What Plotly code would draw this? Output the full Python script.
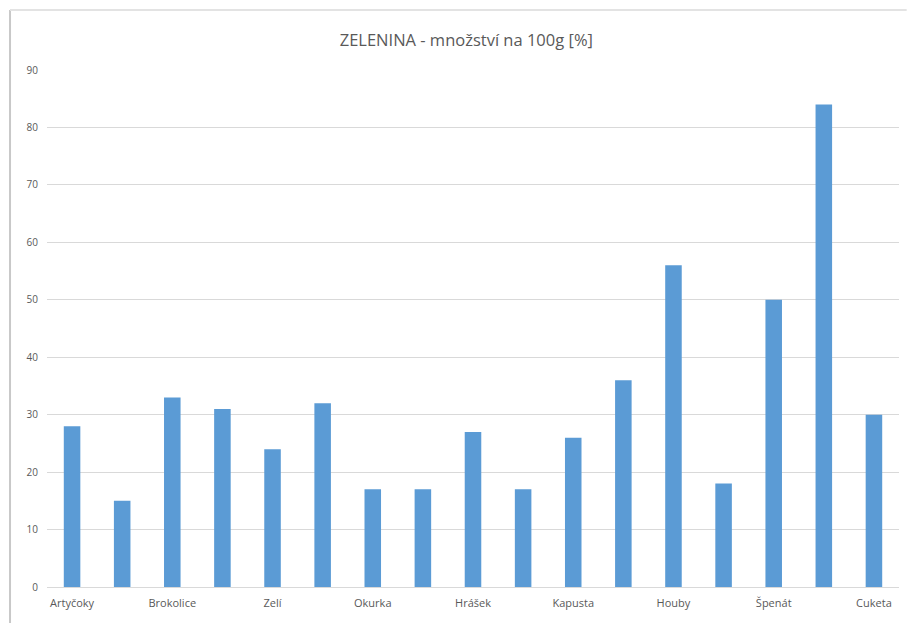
import plotly.graph_objects as go

# Bar positions (17 bars; Excel shows only every other category label)
positions = list(range(17))
values = [28, 15, 33, 31, 24, 32, 17, 17, 27, 17, 26, 36, 56, 18, 50, 84, 30]

label_positions = [0, 2, 4, 6, 8, 10, 12, 14, 16]
labels = ["Artyčoky", "Brokolice", "Zelí", "Okurka", "Hrášek",
          "Kapusta", "Houby", "Špenát", "Cuketa"]

y_ticks = [0, 10, 20, 30, 40, 50, 60, 70, 80, 90]

fig = go.Figure(go.Bar(
    x=positions, y=values,
    marker=dict(color="#5B9BD5", line=dict(width=0)),
    width=0.33,
    hoverinfo="y",
))

fig.update_layout(
    width=909, height=623,
    margin=dict(l=47, r=10, t=70, b=36),
    paper_bgcolor="white", plot_bgcolor="white",
    showlegend=False,
    title=dict(text="ZELENINA - množství na 100g [%]",
               xref="container", x=0.513, xanchor="center", y=0.935, yanchor="middle",
               font=dict(family="Open Sans, Liberation Sans, sans-serif", size=16.5, color="#595959")),
    font=dict(family="Open Sans, Liberation Sans, sans-serif", size=11, color="#595959"),
    xaxis=dict(range=[-0.5, 16.5], tickmode="array", tickvals=label_positions, ticktext=labels,
               showgrid=False, zeroline=False, showline=True, linecolor="#d9d9d9", linewidth=1,
               ticks="", tickfont=dict(size=11, color="#595959"), ticklabelstandoff=6),
    yaxis=dict(range=[0, 90], tickmode="array", tickvals=y_ticks,
               showgrid=True, gridcolor="#d9d9d9", gridwidth=1, zeroline=False,
               ticks="", tickfont=dict(size=10, color="#595959"), ticklabelstandoff=8),
    shapes=[
        dict(type="line", xref="paper", yref="paper", x0=-0.0434, x1=-0.0434, y0=-0.1, y1=1.116,
             line=dict(color="#c8c8c8", width=2)),
        dict(type="line", xref="paper", yref="paper", x0=-0.0434, x1=1.009, y0=1.116, y1=1.116,
             line=dict(color="#e3e3e3", width=2)),
    ],
)

fig.write_html("out.html", config={"displayModeBar": False},
               post_script="document.body.style.margin='0';document.body.style.overflow='hidden';")
